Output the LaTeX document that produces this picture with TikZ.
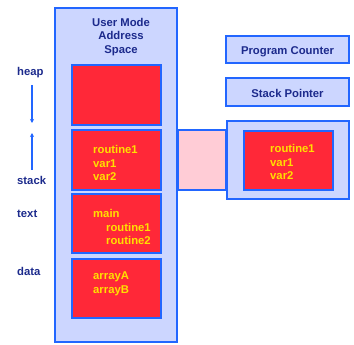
\documentclass[tikz,border=0pt]{standalone}
\usepackage{fontspec}
\setmainfont{Liberation Sans}
\usepackage{tikz}
\usetikzlibrary{arrows.meta}

\definecolor{paleblue}{RGB}{204,214,255}
\definecolor{edgeblue}{RGB}{34,102,255}
\definecolor{navy}{RGB}{28,42,140}
\definecolor{segred}{RGB}{255,40,56}
\definecolor{segtext}{RGB}{255,224,0}
\definecolor{linkpink}{RGB}{255,204,214}

\tikzset{
  panel/.style={draw=edgeblue, fill=paleblue, line width=2pt, inner sep=0pt},
  segment/.style={draw=edgeblue, fill=segred, line width=2.5pt, inner sep=0pt,
    minimum width=89pt},
  navytext/.style={text=navy, font=\bfseries\fontsize{11.3}{13.6}\selectfont},
  register/.style={panel, navytext, minimum width=123pt, text height=11pt, text depth=0pt},
  segtxt/.style={text=segtext, font=\bfseries\fontsize{11.3}{13.6}\selectfont,
    align=left, anchor=west, inner sep=0pt}
}

\begin{document}
\begin{tikzpicture}[x=1pt,y=-1pt]
  \useasboundingbox (0,0) rectangle (354,345);

  % user mode address space
  \node[panel, minimum width=122pt, minimum height=334pt] (space) at (116,175) {};
  \node[navytext, align=center] (title) at (121,37) {User Mode\\Address\\Space};

  % segments
  \node[segment, minimum height=60pt] (heapseg) at (116.5,95) {};
  \node[segment, minimum height=60pt] (stackseg) at (116.5,160) {};
  \node[segment, minimum height=59pt] (textseg) at (116.5,223.5) {};
  \node[segment, minimum height=59pt] (dataseg) at (116.5,288.5) {};

  \node[segtxt] (stackvars) at (93,163) {routine1\\var1\\var2};
  \node[segtxt] (textvars) at (93,227) {main\\\hspace{13pt}routine1\\\hspace{13pt}routine2};
  \node[segtxt] (datavars) at (93,283.5) {arrayA\\arrayB};

  % names on the left
  \node[navytext, anchor=west, inner sep=0pt] (heap) at (17,73) {heap};
  \node[navytext, anchor=west, inner sep=0pt] (stack) at (17,180) {stack};
  \node[navytext, anchor=west, inner sep=0pt] (text) at (17,214) {text};
  \node[navytext, anchor=west, inner sep=0pt] (data) at (17,271) {data};

  \coordinate (hdown) at (32,123);
  \coordinate (sup) at (32,133);
  \draw[edgeblue, line width=1.2pt, -{Stealth[length=4pt,width=4pt]}] (32,85) -- (hdown);
  \draw[edgeblue, line width=1.2pt, -{Stealth[length=4pt,width=4pt]}] (32,170) -- (sup);

  % registers
  \node[register, minimum height=27pt] (pc) at (287.5,49.5) {Program Counter};
  \node[register, minimum height=28pt] (sp) at (287.5,92) {Stack Pointer};

  % current frame, tied to the stack segment
  \node[draw=edgeblue, fill=linkpink, line width=2pt, minimum width=48pt,
    minimum height=60pt, inner sep=0pt] (link) at (202,160) {};
  \node[panel, minimum width=122pt, minimum height=78pt] (frame) at (288,160) {};
  \node[segment, minimum height=59pt] (frameseg) at (288.5,160.5) {};
  \node[segtxt] (framevars) at (270,162) {routine1\\var1\\var2};
\end{tikzpicture}
\end{document}
